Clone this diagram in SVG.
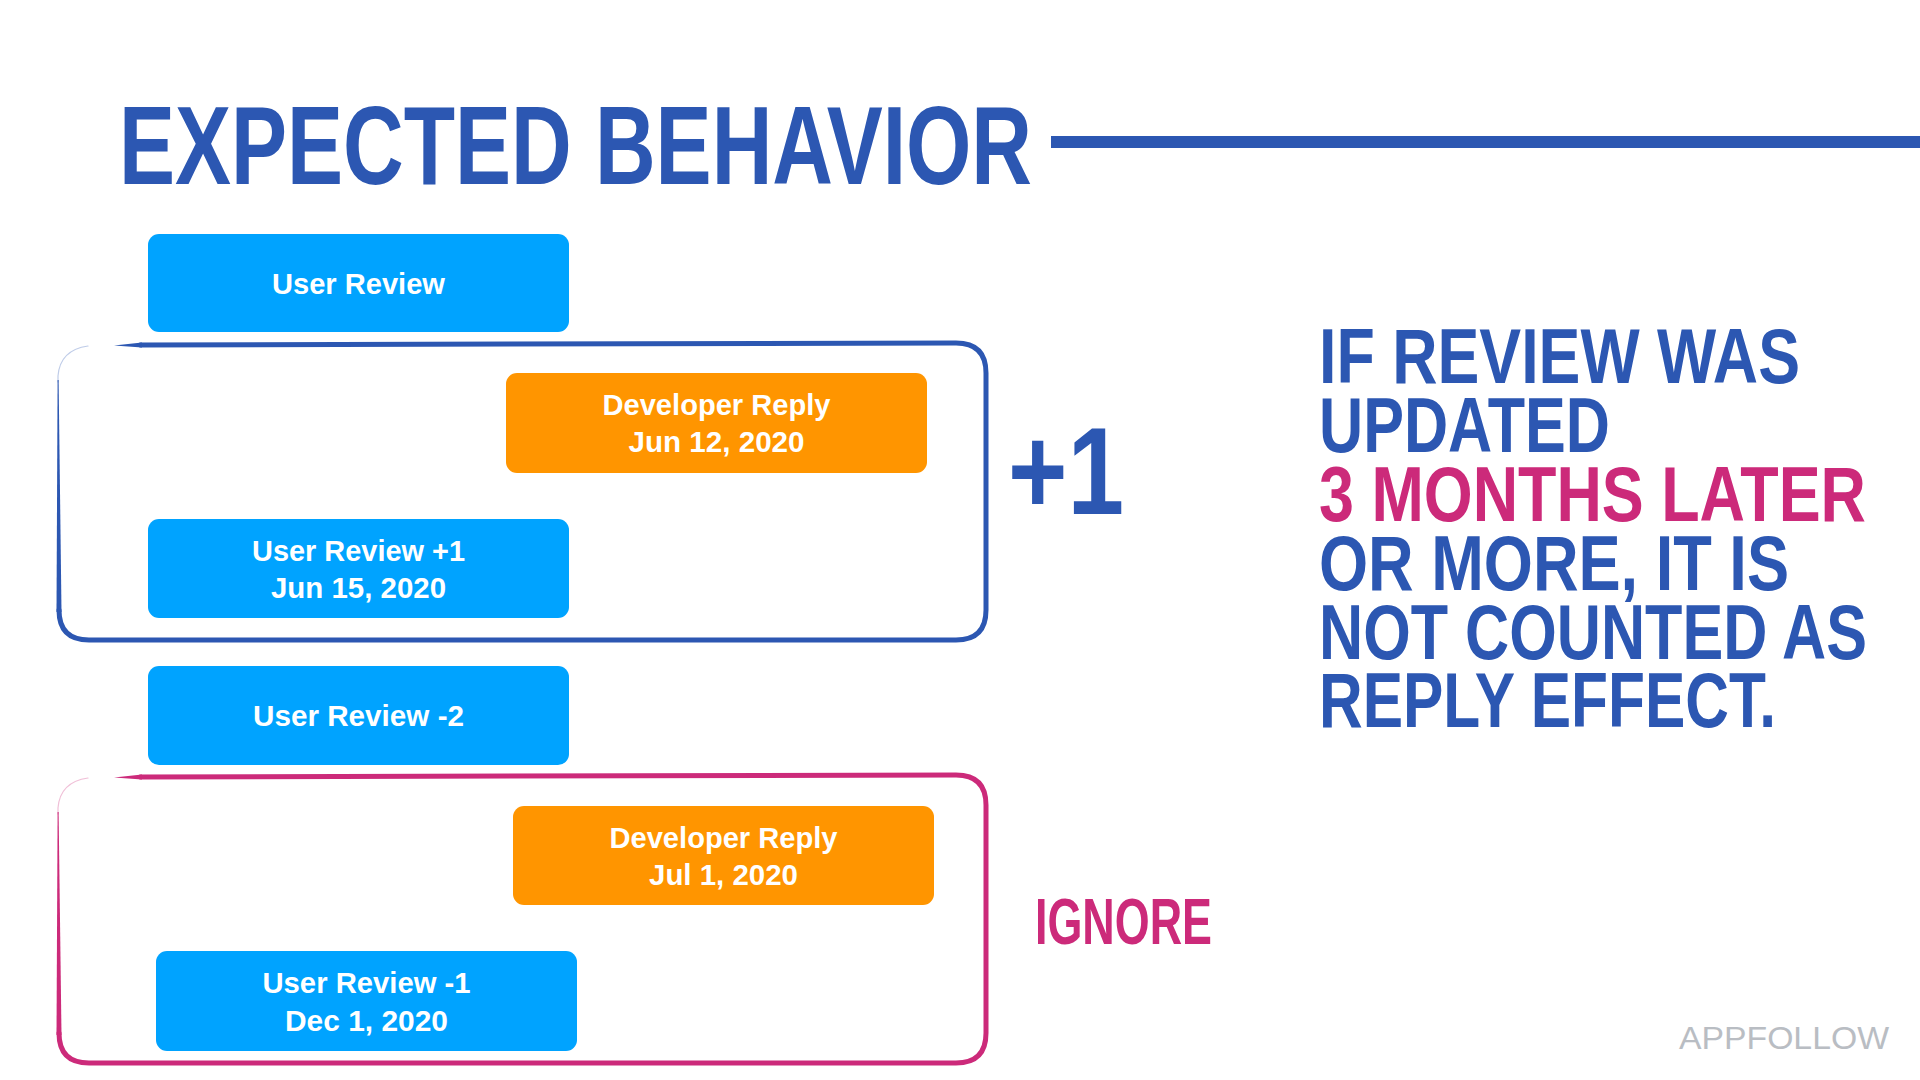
<svg xmlns="http://www.w3.org/2000/svg" width="1920" height="1080" viewBox="0 0 1920 1080">
<style>
.head{font-family:"Liberation Sans",Arial,sans-serif;font-weight:700;}
.title{fill:#2C57B2;font-size:112px;}
.note{fill:#2C57B2;font-size:77px;}
.pink{fill:#CC2A7A;}
.lbl{fill:#ffffff;font-size:29px;text-anchor:middle;}
.ur{fill:#00A3FF;}
.dev{fill:#FF9500;}
.brand{font-family:"Liberation Sans",Arial,sans-serif;font-weight:400;font-size:32px;fill:#B9BDC3;}
.fb{fill:none;stroke:#2C57B2;stroke-linecap:round;stroke-linejoin:round;}
.fp{fill:none;stroke:#CC2A7A;stroke-linecap:round;stroke-linejoin:round;}
</style>
<rect width="1920" height="1080" fill="#ffffff"/>

<g id="title">
<text class="head title" x="119" y="184" textLength="913" lengthAdjust="spacingAndGlyphs">EXPECTED BEHAVIOR</text>
<rect x="1051" y="136" width="869" height="12" fill="#2C57B2"/>
</g>

<g id="frame-plus">
<path class="fb" stroke-width="5" d="M140 345 L956 343 Q986 343 986 373 L986 610 Q986 640 956 640 L89 640 Q59 640 59 610"/>
<path d="M57.6 380 L58.6 380 L61.5 612 L56.5 612 Z" fill="#2C57B2"/>
<path class="fb" stroke-width="1.2" opacity="0.3" d="M58 382 L58 376 Q60 350 88 346"/>
<path d="M114 345.5 L142 342.5 L142 347.5 Z" fill="#2C57B2"/>
</g>

<g id="frame-ignore">
<path class="fp" stroke-width="5" d="M140 777 L956 775 Q986 775 986 805 L986 1033 Q986 1063 956 1063 L89 1063 Q59 1063 59 1033"/>
<path d="M57.6 812 L58.6 812 L61.5 1035 L56.5 1035 Z" fill="#CC2A7A"/>
<path class="fp" stroke-width="1.2" opacity="0.3" d="M58 814 L58 808 Q60 782 88 778"/>
<path d="M114 777.5 L142 774.5 L142 779.5 Z" fill="#CC2A7A"/>
</g>

<g id="user-review">
<rect class="ur" x="148" y="234" width="421" height="98" rx="11"/>
<text class="head lbl" x="358.5" y="294" textLength="173" lengthAdjust="spacingAndGlyphs">User Review</text>
</g>

<g id="dev-reply-1">
<rect class="dev" x="506" y="373" width="421" height="100" rx="11"/>
<text class="head lbl" x="716.5" y="415" textLength="228" lengthAdjust="spacingAndGlyphs">Developer Reply</text>
<text class="head lbl" x="716.5" y="452" textLength="176" lengthAdjust="spacingAndGlyphs">Jun 12, 2020</text>
</g>

<g id="user-review-plus1">
<rect class="ur" x="148" y="519" width="421" height="99" rx="11"/>
<text class="head lbl" x="358.5" y="561" textLength="213" lengthAdjust="spacingAndGlyphs">User Review +1</text>
<text class="head lbl" x="358.5" y="598" textLength="175" lengthAdjust="spacingAndGlyphs">Jun 15, 2020</text>
</g>

<g id="user-review-minus2">
<rect class="ur" x="148" y="666" width="421" height="99" rx="11"/>
<text class="head lbl" x="358.5" y="726" textLength="211" lengthAdjust="spacingAndGlyphs">User Review -2</text>
</g>

<g id="dev-reply-2">
<rect class="dev" x="513" y="806" width="421" height="99" rx="11"/>
<text class="head lbl" x="723.5" y="848" textLength="228" lengthAdjust="spacingAndGlyphs">Developer Reply</text>
<text class="head lbl" x="723.5" y="885" textLength="149" lengthAdjust="spacingAndGlyphs">Jul 1, 2020</text>
</g>

<g id="user-review-minus1">
<rect class="ur" x="156" y="951" width="421" height="100" rx="11"/>
<text class="head lbl" x="366.5" y="993" textLength="208" lengthAdjust="spacingAndGlyphs">User Review -1</text>
<text class="head lbl" x="366.5" y="1031" textLength="163" lengthAdjust="spacingAndGlyphs">Dec 1, 2020</text>
</g>

<g id="plus-one">
<text class="head" x="1008" y="514" font-size="124" fill="#2C57B2" textLength="116" lengthAdjust="spacingAndGlyphs">+1</text>
</g>

<g id="ignore">
<text class="head pink" x="1035" y="944" font-size="65" textLength="177" lengthAdjust="spacingAndGlyphs">IGNORE</text>
</g>

<g id="explanation">
<text class="head note" x="1319" y="383" textLength="481" lengthAdjust="spacingAndGlyphs">IF REVIEW WAS</text>
<text class="head note" x="1319" y="452" textLength="291" lengthAdjust="spacingAndGlyphs">UPDATED</text>
<text class="head note pink" x="1319" y="521" textLength="547" lengthAdjust="spacingAndGlyphs">3 MONTHS LATER</text>
<text class="head note" x="1319" y="590" textLength="470" lengthAdjust="spacingAndGlyphs">OR MORE, IT IS</text>
<text class="head note" x="1319" y="659" textLength="548" lengthAdjust="spacingAndGlyphs">NOT COUNTED AS</text>
<text class="head note" x="1319" y="727" textLength="457" lengthAdjust="spacingAndGlyphs">REPLY EFFECT.</text>
</g>

<g id="brand">
<text class="brand" x="1679" y="1049" textLength="210" lengthAdjust="spacingAndGlyphs">APPFOLLOW</text>
</g>
</svg>
